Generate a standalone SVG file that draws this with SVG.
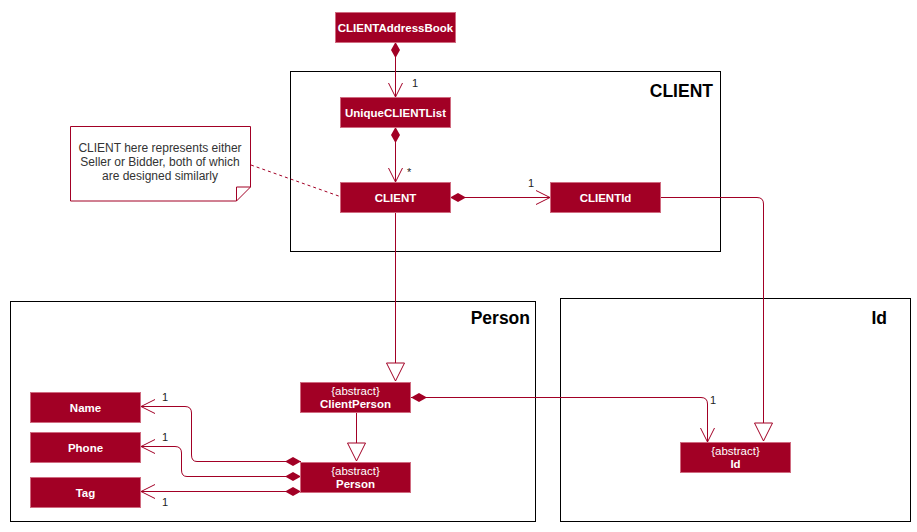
<svg xmlns="http://www.w3.org/2000/svg" width="917" height="532" viewBox="0 0 917 532">
<style>
.frame{fill:none;stroke:#000;stroke-width:1}
.ftitle{font-family:"Liberation Sans",Arial,sans-serif;font-weight:bold;font-size:17.5px;fill:#000;text-anchor:end}
.box{fill:#a20025;stroke:#d06b80;stroke-width:1}
.lbl{font-family:"Liberation Sans",Arial,sans-serif;font-size:11.5px;fill:#fff;text-anchor:middle}
.b{font-weight:bold}
.edge{fill:none;stroke:#a20025;stroke-width:1}
.mult{font-family:"Liberation Sans",Arial,sans-serif;font-size:11px;fill:#222}
.note{fill:#fff;stroke:#a20025;stroke-width:1}
.ntext{font-family:"Liberation Sans",Arial,sans-serif;font-size:12px;fill:#333;text-anchor:middle}
</style>
<defs>
<marker id="diamond" markerWidth="18" markerHeight="10" refX="0" refY="5" orient="auto" markerUnits="userSpaceOnUse">
<path d="M0,5 L8,0.5 L16,5 L8,9.5 Z" fill="#a20025" stroke="none"/>
</marker>
<marker id="open" markerWidth="18" markerHeight="18" refX="15" refY="8" orient="auto" markerUnits="userSpaceOnUse">
<path d="M1,1 L15,8 L1,15" fill="none" stroke="#a20025" stroke-width="1"/>
</marker>
<marker id="tri" markerWidth="22" markerHeight="22" refX="19" refY="10" orient="auto" markerUnits="userSpaceOnUse">
<path d="M1,1 L19,10 L1,19 Z" fill="#fff" stroke="#a20025" stroke-width="1"/>
</marker>
</defs>

<g id="frames">
<rect class="frame" x="290.5" y="71.5" width="430" height="180"/>
<text class="ftitle" x="713" y="97">CLIENT</text>
<rect class="frame" x="10.5" y="301.5" width="525" height="220"/>
<text class="ftitle" x="530" y="324">Person</text>
<rect class="frame" x="560.5" y="298.5" width="350" height="223"/>
<text class="ftitle" x="887" y="324">Id</text>
</g>

<g id="connectors">
<path class="edge" d="M395.5,42 V97" marker-start="url(#diamond)" marker-end="url(#open)"/>
<path class="edge" d="M395.5,127 V182" marker-start="url(#diamond)" marker-end="url(#open)"/>
<path class="edge" d="M450,197.5 H550" marker-start="url(#diamond)" marker-end="url(#open)"/>
<path class="edge" d="M661,197.5 H757 Q763.5,197.5 763.5,204 V441" marker-end="url(#tri)"/>
<path class="edge" d="M395.5,212 V381" marker-end="url(#tri)"/>
<path class="edge" d="M356.5,412 V461" marker-end="url(#tri)"/>
<path class="edge" d="M411,397.5 H701 Q707.5,397.5 707.5,404 V442" marker-start="url(#diamond)" marker-end="url(#open)"/>
<path class="edge" d="M301,461.5 H197 Q191.5,461.5 191.5,455 V413 Q191.5,406.5 185,406.5 H141" marker-start="url(#diamond)" marker-end="url(#open)"/>
<path class="edge" d="M301,476.5 H187 Q181.5,476.5 181.5,470 V453 Q181.5,446.5 175,446.5 H141" marker-start="url(#diamond)" marker-end="url(#open)"/>
<path class="edge" d="M301,491.5 H141" marker-start="url(#diamond)" marker-end="url(#open)"/>
<path d="M251,165 L340,196.5" fill="none" stroke="#a20025" stroke-width="1" stroke-dasharray="3,3"/>
<text class="mult" x="412" y="87">1</text>
<text class="mult" x="407" y="176">*</text>
<text class="mult" x="528" y="187">1</text>
<text class="mult" x="710" y="404">1</text>
<text class="mult" x="162" y="401">1</text>
<text class="mult" x="162" y="441">1</text>
<text class="mult" x="162" y="506">1</text>
</g>

<g id="note">
<path class="note" d="M70.5,126.5 H250.5 V187 L236.5,201 H70.5 Z"/>
<path d="M236.5,201 V187 H250.5" fill="none" stroke="#a20025" stroke-width="1"/>
<text class="ntext" x="160" y="152">CLIENT here represents either</text>
<text class="ntext" x="160" y="166">Seller or Bidder, both of which</text>
<text class="ntext" x="160" y="180">are designed similarly</text>
</g>

<g id="CLIENTAddressBook">
<rect class="box" x="335.5" y="12.5" width="120" height="30"/>
<text class="lbl b" x="395.5" y="31.5">CLIENTAddressBook</text>
</g>
<g id="UniqueCLIENTList">
<rect class="box" x="340.5" y="97.5" width="110" height="30"/>
<text class="lbl b" x="395.5" y="116.5">UniqueCLIENTList</text>
</g>
<g id="CLIENT">
<rect class="box" x="340.5" y="182.5" width="110" height="30"/>
<text class="lbl b" x="395.5" y="201.5">CLIENT</text>
</g>
<g id="CLIENTId">
<rect class="box" x="550.5" y="182.5" width="110" height="30"/>
<text class="lbl b" x="605.5" y="201.5">CLIENTId</text>
</g>
<g id="ClientPerson">
<rect class="box" x="300.5" y="382.5" width="110" height="30"/>
<text class="lbl" x="355.5" y="394.5">{abstract}</text>
<text class="lbl b" x="355.5" y="408">ClientPerson</text>
</g>
<g id="Person">
<rect class="box" x="300.5" y="462.5" width="110" height="30"/>
<text class="lbl" x="355.5" y="474.5">{abstract}</text>
<text class="lbl b" x="355.5" y="488">Person</text>
</g>
<g id="Id">
<rect class="box" x="680.5" y="442.5" width="110" height="30"/>
<text class="lbl" x="735.5" y="454.5">{abstract}</text>
<text class="lbl b" x="735.5" y="468">Id</text>
</g>
<g id="Name">
<rect class="box" x="30.5" y="392.5" width="110" height="30"/>
<text class="lbl b" x="85.5" y="411.5">Name</text>
</g>
<g id="Phone">
<rect class="box" x="30.5" y="432.5" width="110" height="30"/>
<text class="lbl b" x="85.5" y="451.5">Phone</text>
</g>
<g id="Tag">
<rect class="box" x="30.5" y="477.5" width="110" height="30"/>
<text class="lbl b" x="85.5" y="496.5">Tag</text>
</g>
</svg>
